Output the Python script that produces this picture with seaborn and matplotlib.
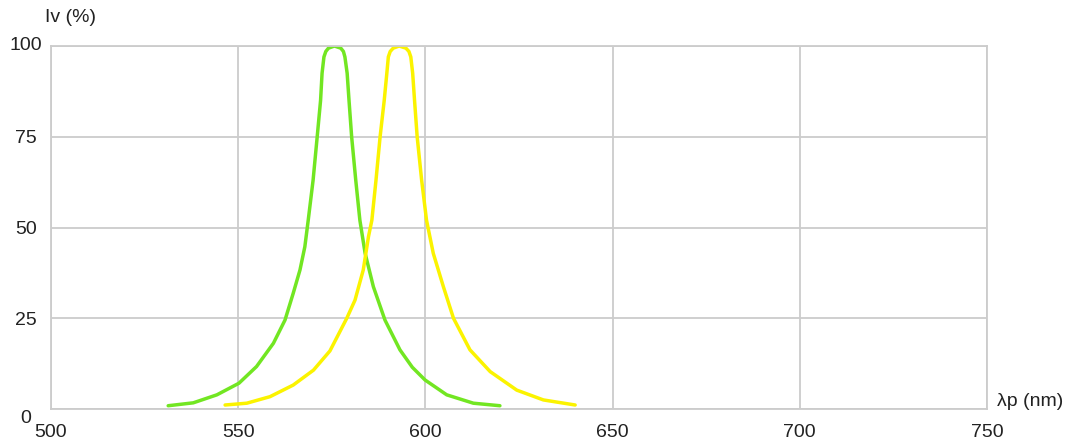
import numpy as np
import pandas as pd
import seaborn as sns
import matplotlib.pyplot as plt
import matplotlib.transforms as mtransforms

# values
green_wl = [531.3, 538.0, 544.3, 550.2, 554.9, 559.4, 562.5, 564.7, 566.5, 567.8, 568.7, 570.0,
            571.1, 572.0, 572.4, 572.9, 573.4, 574.1, 575.7, 577.4, 578.1, 578.5, 579.1, 579.6,
            580.3, 581.4, 582.5, 583.9, 586.1, 589.2, 593.2, 596.5, 599.9, 605.7, 612.8, 619.9]
green_iv = [0.9, 1.7, 3.9, 7.1, 11.7, 18.1, 24.5, 31.9, 38.3, 44.7, 52, 63,
            75, 85, 92.5, 97, 98.5, 99.4, 100, 99.4, 98.5, 97, 92.5, 85,
            75, 63, 52, 42.9, 33.7, 24.5, 16.3, 11.5, 8, 3.9, 1.6, 0.9]
yellow_wl = [546.5, 552.3, 558.5, 564.7, 570.1, 574.5, 579.0, 581.2, 583.4, 584.8, 585.7, 586.8,
             587.9, 589.0, 589.7, 590.1, 590.6, 591.4, 593.0, 594.8, 595.6, 596.1, 596.6, 597.1,
             597.8, 599.0, 600.3, 602.1, 604.8, 607.5, 611.9, 617.3, 624.4, 631.5, 640.0]
yellow_iv = [1.1, 1.6, 3.4, 6.6, 10.7, 16.0, 25, 30, 38.3, 47.5, 52, 63,
             75, 85, 92.5, 97, 98.5, 99.4, 100, 99.4, 98.5, 97, 92.5, 85,
             75, 63, 52, 42.9, 33.7, 25, 16.3, 10.3, 5.2, 2.5, 1.1]
x_ticks = [500, 550, 600, 650, 700, 750]
y_ticks = [0, 25, 50, 75, 100]

df = pd.concat([
    pd.DataFrame({"wl": green_wl, "iv": green_iv, "led": "green"}),
    pd.DataFrame({"wl": yellow_wl, "iv": yellow_iv, "led": "yellow"}),
])

sns.set_style("white")
plt.rcParams['font.family'] = ['Liberation Sans', 'DejaVu Sans']

fig = plt.figure(figsize=(10.74, 4.48), dpi=100)
ax = fig.add_axes([51/1074, 1 - 409/448, 936/1074, 363/448])
sns.lineplot(data=df, x="wl", y="iv", hue="led", sort=False, estimator=None,
             palette={"green": "#72e622", "yellow": "#fbf300"}, linewidth=2.5,
             legend=False, ax=ax)
for ln in ax.lines:
    ln.set_solid_joinstyle("round")
    ln.set_solid_capstyle("round")

ax.set_xlim(500, 750)
ax.set_ylim(0, 100)
ax.set_xticks(x_ticks)
ax.set_yticks(y_ticks)
ax.set_xlabel("")
ax.set_ylabel("")
ax.grid(True, color="#cccccc", linewidth=1.3)
for s in ax.spines.values():
    s.set_color("#cccccc")
    s.set_linewidth(1.3)
ax.tick_params(axis="both", length=0, labelsize=14, colors="#222222")
ax.tick_params(axis="x", pad=11)
ax.tick_params(axis="y", pad=18)
for lab in ax.get_yticklabels():
    lab.set_horizontalalignment("center")

# the 0 and 100 labels sit a little off their gridlines
ylabs = ax.get_yticklabels()
ylabs[0].set_transform(ylabs[0].get_transform() + mtransforms.ScaledTranslation(0, -7/100, fig.dpi_scale_trans))
ylabs[-1].set_transform(ylabs[-1].get_transform() + mtransforms.ScaledTranslation(0, 2.5/100, fig.dpi_scale_trans))

fig.text(45/1074, 1 - 18/448, "Iv (%)", fontsize=14, color="#222222", va="center", ha="left")
fig.text(997/1074, 1 - 401/448, "λp (nm)", fontsize=14, color="#222222", va="center", ha="left")

fig.savefig("out.png", dpi=100)
